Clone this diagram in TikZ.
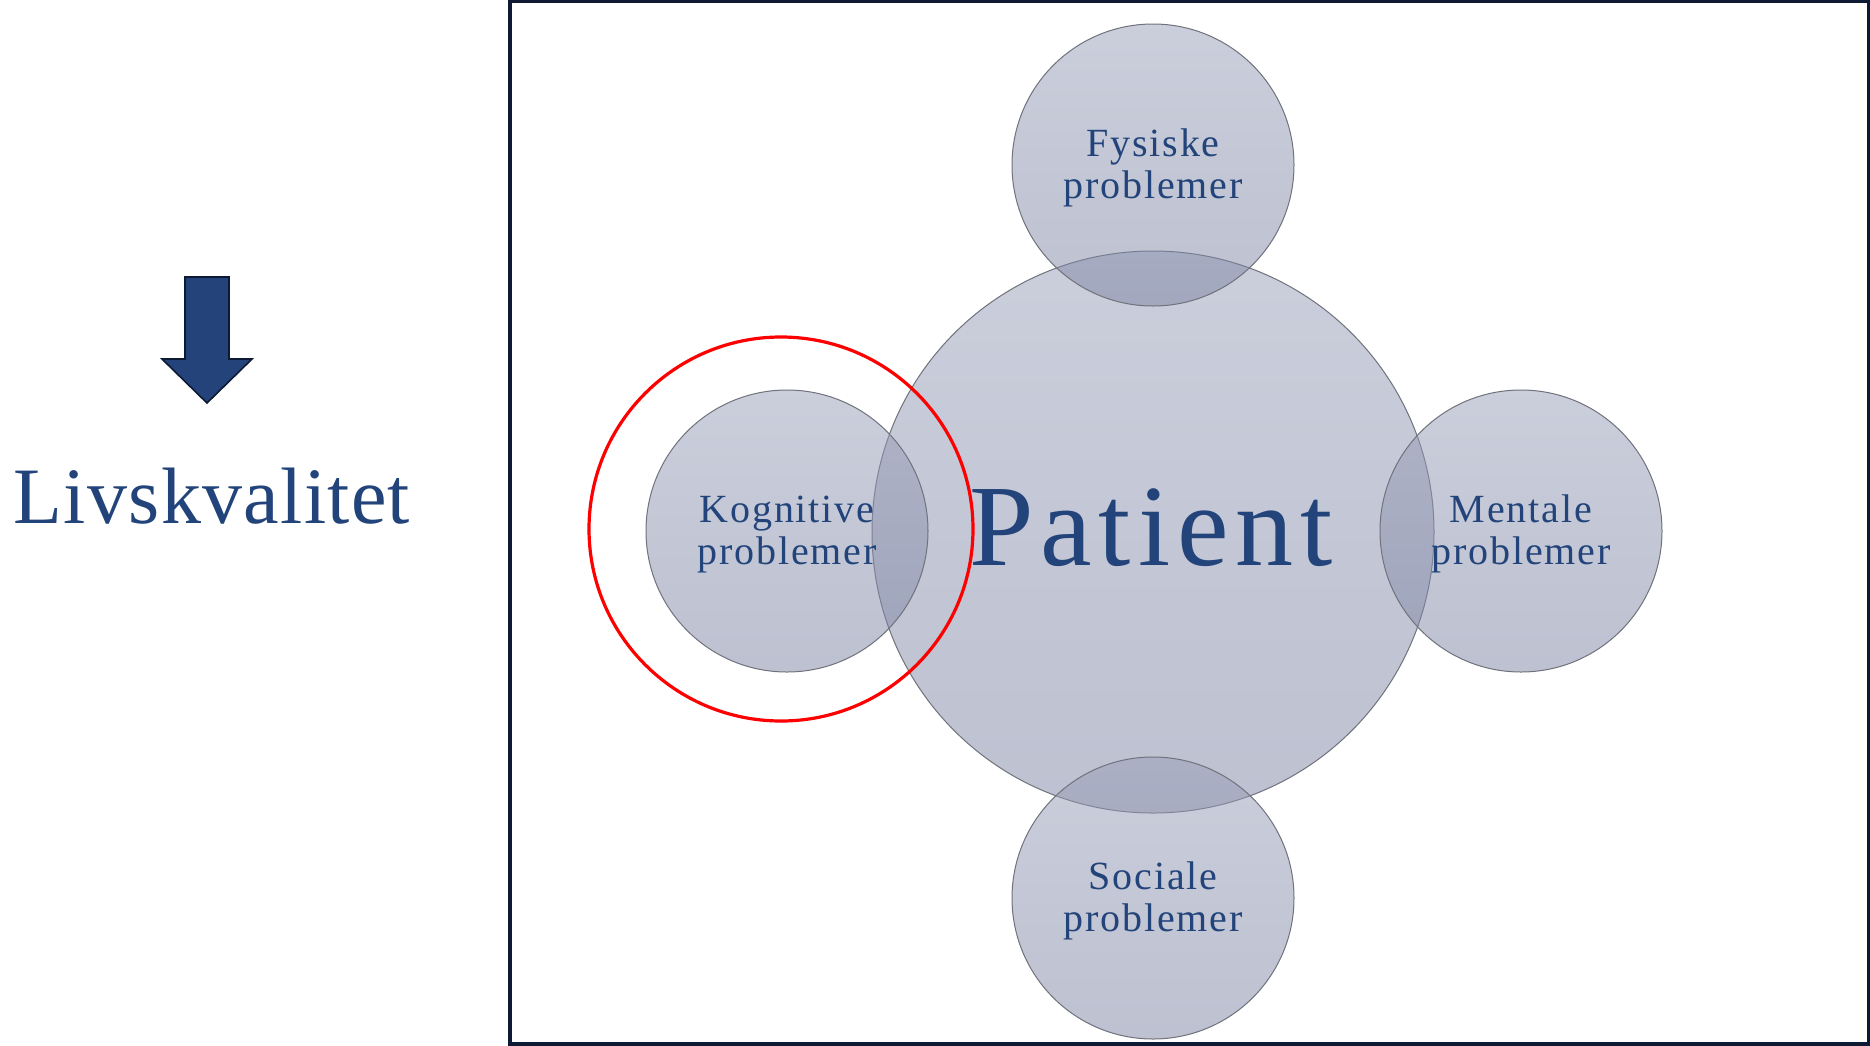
\documentclass[tikz,border=0pt]{standalone}
\usepackage{fontspec}
\setmainfont{Liberation Serif}
\newfontfamily\smallfont[LetterSpace=4.6]{Liberation Serif}
\newfontfamily\bigfont[LetterSpace=6]{Liberation Serif}
\newfontfamily\lvfont[LetterSpace=1.6]{Liberation Serif}
\newcommand\tstrut{\rule{0pt}{16.9pt}}
\definecolor{txt}{RGB}{34,68,122}
\definecolor{framecol}{RGB}{14,26,51}
\definecolor{arrowfill}{RGB}{35,67,122}
\definecolor{arrowline}{RGB}{13,26,51}
\definecolor{ctop}{RGB}{152,158,184}
\definecolor{cbot}{RGB}{124,132,163}
\definecolor{rim}{RGB}{112,114,124}
\begin{document}
\begin{tikzpicture}[x=0.5pt,y=-0.5pt,
  bubble/.style={circle, inner sep=0pt, minimum size=141pt,
    top color=ctop, bottom color=cbot, fill opacity=0.5, text opacity=1,
    draw=rim, draw opacity=1, line width=0.5pt, text=txt, align=center,
    font={\smallfont\fontsize{20}{21}\selectfont}},
  bigbubble/.style={bubble, minimum size=281pt},
  bigtext/.style={inner sep=0pt, text=txt, font={\bigfont\fontsize{58}{60}\selectfont}},
  ring/.style={circle, inner sep=0pt, minimum size=192pt, draw=red, line width=1.6pt},
  framebox/.style={draw=framecol, line width=2pt},
  downarrow/.style={fill=arrowfill, draw=arrowline, line width=0.8pt, line join=miter},
  lvtext/.style={inner sep=0pt, text=txt, font={\lvfont\fontsize{40}{44}\selectfont}}]
\useasboundingbox (0,0) rectangle (1870,1045);
\fill[white] (0,0) rectangle (1870,1045);
% frame
\draw[framebox] (509.5,0.5) rectangle (1868.5,1044);
% left arrow and text
\draw[downarrow] (185,277) -- (229,277) -- (229,359) -- (252,359) -- (207,403) -- (162,359) -- (185,359) -- cycle;
\node[lvtext, anchor=base] (lk) at (212,523) {Livskvalitet};
% central circle
\node[bigbubble] (pat) at (1153,532) {};
\node[bigtext, anchor=base] (pattxt) at (1151,565) {Patient};
% satellite circles
\node[bubble] (fys) at (1153,165) {\tstrut Fysiske\\problemer};
\node[bubble] (kog) at (787,531) {\tstrut Kognitive\\problemer};
\node[bubble] (men) at (1521,531) {\tstrut Mentale\\problemer};
\node[bubble] (soc) at (1153,898) {\tstrut Sociale\\problemer};
% red ring
\node[ring] (ringk) at (781,529) {};
\end{tikzpicture}
\end{document}
